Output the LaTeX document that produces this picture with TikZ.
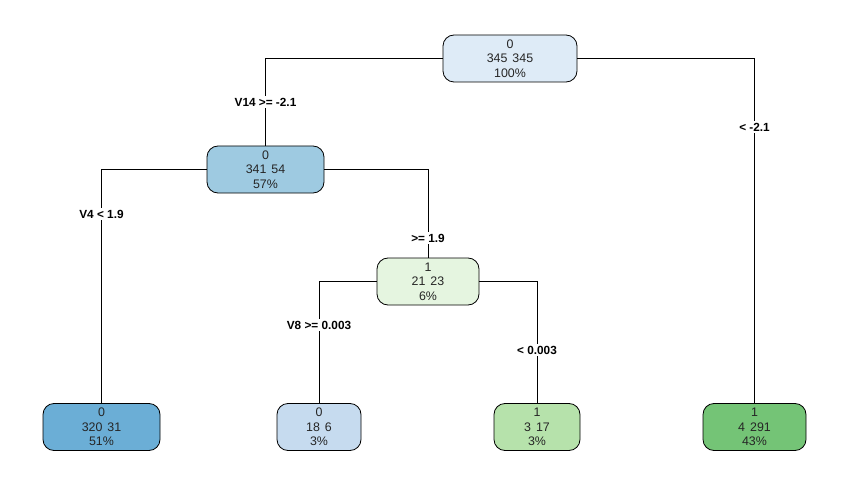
\documentclass[tikz,border=0pt]{standalone}
\usepackage{fontspec}
\setmainfont{Liberation Sans}
\begin{document}
\begin{tikzpicture}[x=1pt,y=-1pt,
  tnode/.style={draw=black,line width=0.8pt,rounded corners=11pt,align=center,
    minimum height=47pt,inner sep=1pt,font=\fontsize{12.4}{14.5}\selectfont,text=black!85},
  elabel/.style={fill=white,inner sep=1.5pt,font=\fontsize{11.8}{13}\selectfont\bfseries},
  conn/.style={line width=0.7pt,draw=black}]
\useasboundingbox (0,0) rectangle (849,484);
\definecolor{cRoot}{RGB}{222,235,247}
\definecolor{cN2}{RGB}{158,202,225}
\definecolor{cL1}{RGB}{107,174,214}
\definecolor{cL2}{RGB}{198,219,239}
\definecolor{cN3}{RGB}{229,245,224}
\definecolor{cL3}{RGB}{182,226,171}
\definecolor{cL4}{RGB}{116,196,118}
\node[tnode,fill=cRoot,minimum width=134pt] (root) at (510,58.5) {0\\345\hspace{5pt}345\\100\%};
\node[tnode,fill=cN2,minimum width=117pt] (n2) at (265.5,169.5) {0\\341\hspace{5pt}54\\57\%};
\node[tnode,fill=cN3,minimum width=102pt] (n3) at (428,281.5) {1\\21\hspace{5pt}23\\6\%};
\node[tnode,fill=cL1,minimum width=117pt] (l1) at (101.5,427) {0\\320\hspace{5pt}31\\51\%};
\node[tnode,fill=cL2,minimum width=84pt] (l2) at (319,427) {0\\18\hspace{5pt}6\\3\%};
\node[tnode,fill=cL3,minimum width=86pt] (l3) at (537,427) {1\\3\hspace{5pt}17\\3\%};
\node[tnode,fill=cL4,minimum width=103pt] (l4) at (754.5,427) {1\\4\hspace{5pt}291\\43\%};
\draw[conn] (root.west) -| (n2.north);
\draw[conn] (root.east) -| (l4.north);
\draw[conn] (n2.west) -| (l1.north);
\draw[conn] (n2.east) -| (n3.north);
\draw[conn] (n3.west) -| (l2.north);
\draw[conn] (n3.east) -| (l3.north);
\node[elabel] (e1) at (265.5,102) {V14 >= -2.1};
\node[elabel] (e2) at (754.5,127) {< -2.1};
\node[elabel] (e3) at (101.5,214) {V4 < 1.9};
\node[elabel] (e4) at (428,238) {>= 1.9};
\node[elabel] (e5) at (319,325) {V8 >= 0.003};
\node[elabel] (e6) at (537,350) {< 0.003};
\end{tikzpicture}
\end{document}
